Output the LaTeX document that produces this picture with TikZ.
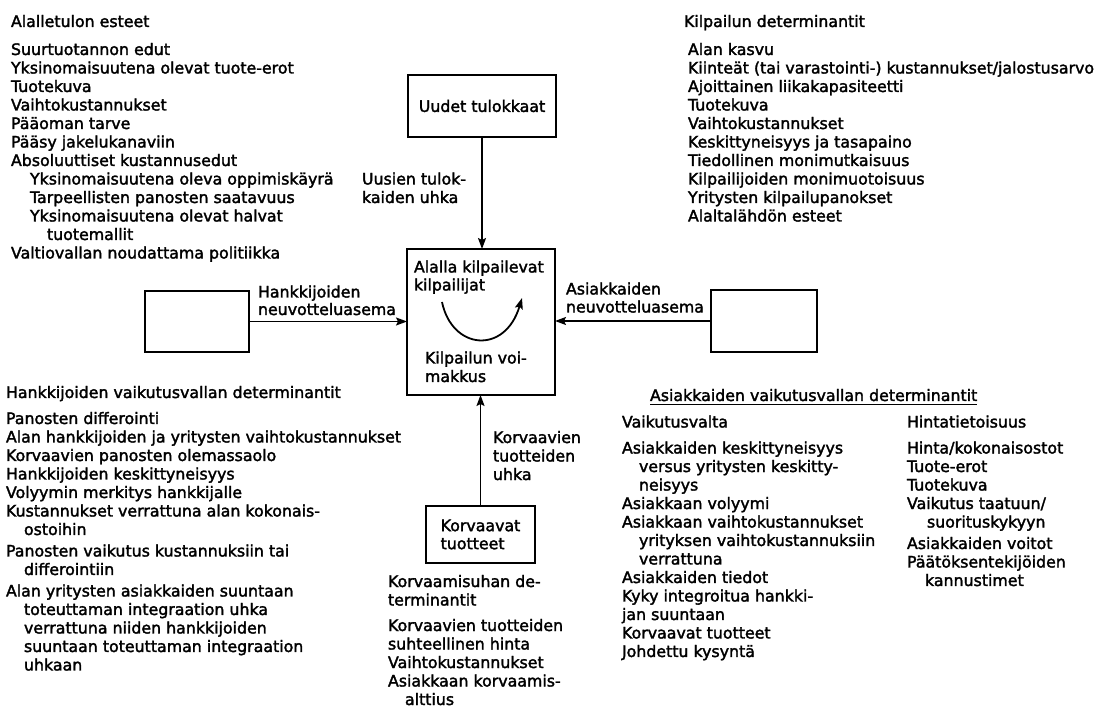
\documentclass[tikz,border=0pt]{standalone}
\usepackage{fontspec}
\setmainfont{DejaVu Sans}[FakeBold=2]
\usetikzlibrary{arrows.meta}
\newcommand\blk[2][18.5pt]{\vtop{\baselineskip=#1\lineskiplimit=-20pt\lineskip=0pt\halign{##\hfil\cr#2\crcr}}}
\begin{document}
\begin{tikzpicture}[x=1pt,y=-1pt,
  every node/.style={font=\fontsize{15.8}{18}\selectfont},
  txt/.style={anchor=base west,inner sep=0pt,outer sep=0pt},
  box/.style={draw,line width=1.8pt,inner sep=0pt,outer sep=0pt},
  arr/.style={line width=1.8pt,-{Stealth[length=11pt,width=8pt,inset=2pt]}}]
\useasboundingbox (0,0) rectangle (1104,711);
\fill[white] (0,0) rectangle (1104,711);

% boxes
\node[box,minimum width=148pt,minimum height=62pt] (ut) at (482,106) {Uudet tulokkaat};
\node[box,minimum width=148pt,minimum height=146pt] (cb) at (481,322) {};
\node[box,minimum width=104pt,minimum height=61pt] (hb) at (197,321.5) {};
\node[box,minimum width=106pt,minimum height=62pt] (ab) at (764,321) {};
\node[box,minimum width=109pt,minimum height=57pt,align=left] (kt) at (480.5,534.5) {Korvaavat\\tuotteet};

% connectors
\draw[arr] (ut.south) -- (ut.south |- cb.north);
\draw[arr] (hb.east) -- (hb.east -| cb.west);
\draw[arr] (ab.west) -- (ab.west -| cb.east);
\draw[arr] (kt.north) -- (kt.north |- cb.south);
\coordinate (a1) at (442,302);
\coordinate (a2) at (522,298);
\draw[arr] (a1) .. controls (452,350) and (505,355) .. (a2);

% center texts
\node[txt] (c1) at (414,272.5) {\blk[18pt]{Alalla kilpailevat\cr kilpailijat}};
\node[txt] (c2) at (425,363.5) {\blk[18.5pt]{Kilpailun voi-\cr makkus}};

% connector labels
\node[txt] (l1) at (362,184.5) {\blk{Uusien tulok-\cr kaiden uhka}};
\node[txt] (l2) at (258,297.5) {\blk[17.5pt]{Hankkijoiden\cr neuvotteluasema}};
\node[txt] (l3) at (566,294.5) {\blk[18pt]{Asiakkaiden\cr neuvotteluasema}};
\node[txt] (l4) at (493,443) {\blk{Korvaavien\cr tuotteiden\cr uhka}};

% upper left
\node[txt] (t1) at (11,27) {Alalletulon esteet};
\node[txt] (b1) at (11,55) {\blk{Suurtuotannon edut\cr
Yksinomaisuutena olevat tuote-erot\cr
Tuotekuva\cr
Vaihtokustannukset\cr
P\"a\"aoman tarve\cr
P\"a\"asy jakelukanaviin\cr
Absoluuttiset kustannusedut\cr
\kern19pt Yksinomaisuutena oleva oppimisk\"ayr\"a\cr
\kern19pt Tarpeellisten panosten saatavuus\cr
\kern19pt Yksinomaisuutena olevat halvat\cr
\kern36pt tuotemallit\cr
Valtiovallan noudattama politiikka}};

% upper right
\node[txt] (t2) at (684,27) {Kilpailun determinantit};
\node[txt] (b2) at (688,55) {\blk{Alan kasvu\cr
Kiinte\"at (tai varastointi-) kustannukset/jalostusarvo\cr
Ajoittainen liikakapasiteetti\cr
Tuotekuva\cr
Vaihtokustannukset\cr
Keskittyneisyys ja tasapaino\cr
Tiedollinen monimutkaisuus\cr
Kilpailijoiden monimuotoisuus\cr
Yritysten kilpailupanokset\cr
Alaltal\"ahd\"on esteet}};

% lower left
\node[txt] (t3) at (6,398) {Hankkijoiden vaikutusvallan determinantit};
\node[txt] (b3) at (6,424) {\blk{Panosten differointi\cr
Alan hankkijoiden ja yritysten vaihtokustannukset\cr
Korvaavien panosten olemassaolo\cr
Hankkijoiden keskittyneisyys\cr
Volyymin merkitys hankkijalle\cr
Kustannukset verrattuna alan kokonais-\cr
\kern18pt ostoihin\cr\noalign{\vskip3pt}
Panosten vaikutus kustannuksiin tai\cr
\kern18pt differointiin\cr\noalign{\vskip3pt}
Alan yritysten asiakkaiden suuntaan\cr
\kern18pt toteuttaman integraation uhka\cr
\kern18pt verrattuna niiden hankkijoiden\cr
\kern18pt suuntaan toteuttaman integraation\cr
\kern18pt uhkaan}};

% lower middle
\node[txt] (b4) at (388,587) {\blk{Korvaamisuhan de-\cr
terminantit\cr\noalign{\vskip7pt}
Korvaavien tuotteiden\cr
suhteellinen hinta\cr
Vaihtokustannukset\cr
Asiakkaan korvaamis-\cr
\kern17pt alttius}};

% lower right
\node[txt] (t5) at (650,401) {Asiakkaiden vaikutusvallan determinantit};
\draw[line width=1.2pt] ([yshift=-3.5pt]t5.base west) -- ([yshift=-3.5pt]t5.base east);
\node[txt] (s5) at (622,427.5) {Vaikutusvalta};
\node[txt] (b5) at (622,453.5) {\blk{Asiakkaiden keskittyneisyys\cr
\kern17pt versus yritysten keskitty-\cr
\kern17pt neisyys\cr
Asiakkaan volyymi\cr
Asiakkaan vaihtokustannukset\cr
\kern17pt yrityksen vaihtokustannuksiin\cr
\kern17pt verrattuna\cr
Asiakkaiden tiedot\cr
Kyky integroitua hankki-\cr
jan suuntaan\cr
Korvaavat tuotteet\cr
Johdettu kysynt\"a}};
\node[txt] (s6) at (907,427.5) {Hintatietoisuus};
\node[txt] (b6) at (907,453.5) {\blk{Hinta/kokonaisostot\cr
Tuote-erot\cr
Tuotekuva\cr
Vaikutus taatuun/\cr
\kern20pt suorituskykyyn\cr\noalign{\vskip3pt}
Asiakkaiden voitot\cr
P\"a\"at\"oksentekij\"oiden\cr
\kern18pt kannustimet}};
\end{tikzpicture}
\end{document}
